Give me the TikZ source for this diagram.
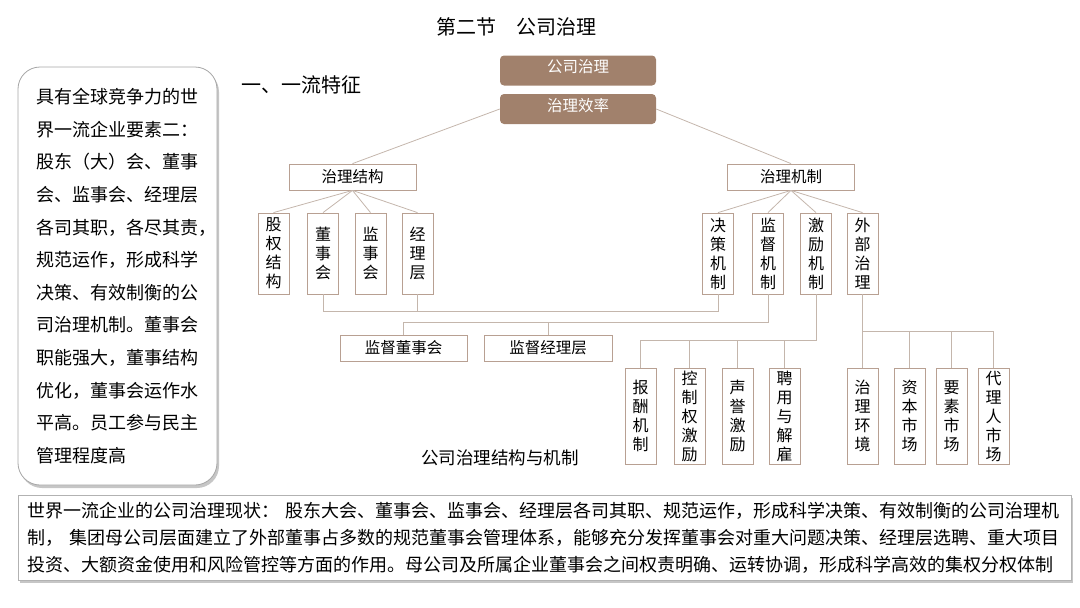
\documentclass[tikz,border=0pt]{standalone}
\usepackage{fontspec}
\setmainfont{Noto Sans CJK SC}
\usetikzlibrary{shadows}
\definecolor{zong}{RGB}{161,129,108}
\definecolor{bian}{RGB}{184,160,146}
\definecolor{xian}{RGB}{196,182,172}
\begin{document}
\begin{tikzpicture}[x=1pt,y=-1pt,
        hbox/.style={draw=bian,line width=.8pt,minimum width=127pt,minimum height=26pt,inner sep=0pt,font=\fontsize{15.5}{18}\selectfont},
        vbox/.style={draw=bian,line width=.8pt,minimum width=31pt,minimum height=81pt,inner sep=0pt,align=center,font=\fontsize{16}{19}\selectfont},
        topbox/.style={fill=zong,rounded corners=4pt,minimum width=156pt,minimum height=30pt,inner sep=0pt,text height=12pt,text depth=8pt,text=white,font=\fontsize{15.5}{18}\selectfont},
        lian/.style={draw=xian,line width=.8pt},
        yingzi/.style={drop shadow={shadow xshift=2pt,shadow yshift=-3pt,opacity=.45}}]
    \useasboundingbox (0,0) rectangle (1080,608);
    \def\ya{253.5} \def\yb{416}
    \node (biaoti) at (516,27) {\fontsize{20}{24}\selectfont 第二节　公司治理};
    \node[anchor=west] (tezheng) at (238,85) {\fontsize{20}{24}\selectfont 一、一流特征};
    %===========================================
    \node[topbox] (gszl) at (578,70.5) {公司治理};
    \node[topbox] (xl) at (578,109) {治理效率};
    \node[hbox] (zj) at (352.5,177) {治理结构};
    \node[hbox] (jz) at (791,177) {治理机制};
    \draw[lian] (xl.west) -- (zj.north);
    \draw[lian] (xl.east) -- (jz.north);
    \foreach \nm/\x/\tx in {gq/273.5/{股\\权\\结\\构},dsh/323/{董\\事\\会},jsh/370.5/{监\\事\\会},jll/417.5/{经\\理\\层},
            jc/718/{决\\策\\机\\制},jd/768/{监\\督\\机\\制},jl/816/{激\\励\\机\\制},wb/862.5/{外\\部\\治\\理}}
        \node[vbox] (\nm) at (\x,\ya) {\tx};
    \foreach \nm in {gq,dsh,jsh,jll} \draw[lian] (zj.south) -- (\nm.north);
    \foreach \nm in {jc,jd,jl,wb} \draw[lian] (jz.south) -- (\nm.north);
    %===========================================
    \node[hbox] (jdd) at (403.5,348) {监督董事会};
    \node[hbox,minimum width=128pt] (jdl) at (548,348) {监督经理层};
    \foreach \nm/\x/\tx in {bc/640.5/{报\\酬\\机\\制},kz/689.5/{控\\制\\权\\激\\励},sy/737.5/{声\\誉\\激\\励},py/784.5/{聘\\用\\与\\解\\雇},
            hj/862.5/{治\\理\\环\\境},zb/909.5/{资\\本\\市\\场},ys/951.5/{要\\素\\市\\场},dl/993.5/{代\\理\\人\\市\\场}}
        \node[vbox,minimum height=96pt] (\nm) at (\x,\yb) {\tx};
    \draw[lian] (dsh.south) -- ++(0,17) -| (jc.south);
    \draw[lian] (jll.south) -- ++(0,17);
    \draw[lian] (jd.south) -- ++(0,28) -| (jdd.north);
    \draw[lian] (jdl.north) -- ++(0,-13);
    \draw[lian] (jl.south) -- ++(0,46) -| (bc.north);
    \foreach \nm in {kz,sy,py} \draw[lian] (\nm.north) -- ++(0,-28);
    \draw[lian] (wb.south) -- (hj.north);
    \draw[lian] (wb.south) -- ++(0,37) -| (dl.north);
    \foreach \nm in {zb,ys} \draw[lian] (\nm.north) -- ++(0,-37);
    \node (tuming) at (500,458) {\fontsize{17.5}{20}\selectfont 公司治理结构与机制};
    %===========================================
    \node[draw=gray!70,line width=.8pt,rounded corners=22pt,fill=white,yingzi,minimum width=199pt,minimum height=418pt,
        text width=162pt,align=left,font=\fontsize{18}{32.6}\selectfont] (yaosu) at (117.5,276)
        {具有全球竞争力的世\\界一流企业要素二：\\股东（大）会、董事\\会、监事会、经理层\\各司其职，各尽其责，\\规范运作，形成科学\\决策、有效制衡的公\\司治理机制。董事会\\职能强大，董事结构\\优化，董事会运作水\\平高。员工参与民主\\管理程度高};
    \node[draw=gray!60,line width=.8pt,fill=white,yingzi,anchor=west,text width=1035pt,inner xsep=9pt,minimum height=85pt,
        align=left,font=\fontsize{18}{27}\selectfont] (xianzhuang) at (18,537.5)
        {世界一流企业的公司治理现状： 股东大会、董事会、监事会、经理层各司其职、规范运作，形成科学决策、有效制衡的公司治理机\\制， 集团母公司层面建立了外部董事占多数的规范董事会管理体系，能够充分发挥董事会对重大问题决策、经理层选聘、重大项目\\投资、大额资金使用和风险管控等方面的作用。母公司及所属企业董事会之间权责明确、运转协调，形成科学高效的集权分权体制};
\end{tikzpicture}
\end{document}
